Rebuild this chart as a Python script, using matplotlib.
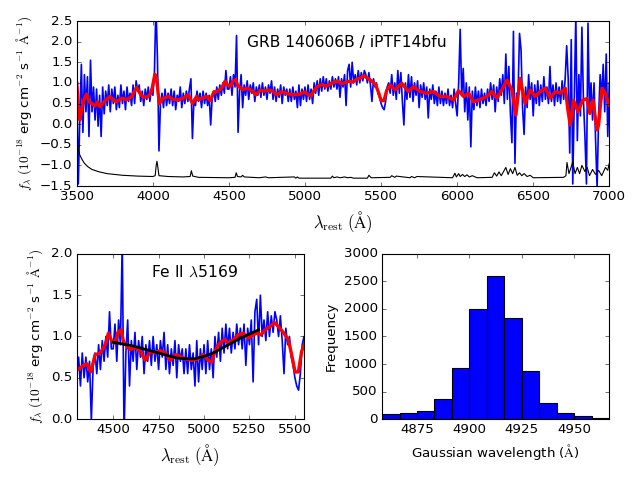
import numpy as np
import matplotlib as mpl
mpl.use('Agg')
import matplotlib.pyplot as plt

plt.style.use('classic')

# observed spectrum, 10 A grid from 3500 to 7000
wave = np.arange(3500, 7001, 10)
flux = [
    0.9, -1.45, 0.2, 1.45, -0.2, 1.2, 0.3, 1.15, -0.3, 1.55,     # 3500
    0.3, 0.9, 0.1, 0.85, -0.05, 0.7, -0.3, 0.9, 0.25, 0.8,       # 3600
    0.45, 0.95, 0.3, 0.85, 0.5, 0.9, 0.35, 0.7, 0.4, 0.95,       # 3700
    0.5, 0.8, 0.35, 0.9, 0.55, 0.75, 0.45, 0.95, 0.5, 1.05,      # 3800
    0.8, 0.95, 0.55, 0.8, 0.45, 0.85, 0.6, 0.9, 0.55, 0.85,      # 3900
    0.7, 1.2, 2.9, 1.6, -0.65, 0.5, 0.75, 0.4, 0.85, 0.45,       # 4000
    0.75, 0.5, 0.85, 0.45, 0.8, 0.35, 0.7, 0.55, 0.9, 0.4,       # 4100
    0.75, 0.5, 0.8, 0.55, 0.85, 1.1, -0.35, 0.6, 0.45, 0.8,      # 4200
    0.55, 0.75, 0.4, 0.8, 0.5, 0.75, 0.45, 0.7, -0.02, 0.65,     # 4300
    0.8, 0.55, 0.9, 0.6, 0.95, 0.7, 1.0, 0.75, 1.3, 0.85,        # 4400
    0.85, 1.15, 0.7, 1.2, 0.9, 2.15, -0.2, 0.8, 1.2, 0.4,        # 4500
    0.95, 0.7, 1.05, 0.6, 0.95, 0.75, 1.0, 0.55, 0.9, 0.7,       # 4600
    0.95, 0.65, 1.0, 0.7, 0.9, 0.6, 0.95, 0.75, 1.05, 0.6,       # 4700
    0.9, 0.55, 0.85, 0.65, 0.95, 0.5, 0.9, 0.7, 0.85, 0.55,      # 4800
    0.85, 0.55, 0.9, 0.6, 0.8, 0.4, 0.95, 0.45, 0.85, 0.6,       # 4900
    0.9, 0.55, 0.95, 0.6, 0.85, 0.5, 1.0, 0.75, 1.05, 0.7,       # 5000
    1.1, 0.8, 1.15, 0.85, 1.1, 0.8, 1.05, 0.85, 1.15, 0.9,       # 5100
    1.1, 0.85, 1.15, 0.65, 1.1, 0.9, 1.2, 0.45, 1.3, 1.45,       # 5200
    0.9, 1.5, 1.0, 1.2, 0.95, 1.3, 1.0, 1.25, 1.05, 1.3,         # 5300
    1.2, 1.0, 1.25, 0.95, 0.55, 1.1, 0.9, 1.0, 0.75, 0.65,       # 5400
    0.5, 0.4, 0.35, 0.55, 0.9, 1.0, 0.75, 1.2, 0.7, 1.0,         # 5500
    0.6, 1.3, 0.75, 1.25, 0.55, -0.02, 1.0, 0.6, 1.2, 0.65,      # 5600
    1.15, 0.55, 1.0, 0.7, 1.05, 0.4, 0.95, 0.65, 1.0, 0.6,       # 5700
    0.9, 0.15, 0.85, 0.6, 0.95, 0.5, 0.8, 0.45, 0.9, 0.5,        # 5800
    0.8, 0.45, 0.75, 0.5, 0.85, 0.45, 0.7, 0.4, 0.85, 0.5,       # 5900
    0.2, 1.0, 2.3, 0.7, 1.35, 0.3, 1.0, 0.1, 0.9, -0.55,         # 6000
    0.8, 0.35, 0.9, 0.45, 0.8, 0.4, 0.85, 0.5, 0.75, 0.45,       # 6100
    0.85, 0.55, 1.0, 0.6, 0.95, 0.3, 0.9, 0.55, 1.1, 0.7,        # 6200
    1.2, 0.5, 1.7, 0.6, 1.4, 0.25, -0.45, 2.25, -0.95, 0.75,     # 6300
    0.7, 2.2, 1.8, 0.4, -0.25, 0.9, 0.4, 1.2, 0.6, 1.0,          # 6400
    0.2, 0.95, 0.5, 1.05, 0.45, 0.95, 0.55, 1.15, 0.6, 0.9,      # 6500
    0.5, 1.4, 0.55, 0.95, 0.45, 1.0, 0.55, 0.9, 0.5, 1.05,       # 6600
    0.6, 1.1, 1.9, 1.1, -0.7, 2.05, -1.45, 0.6, 2.65, -0.4,      # 6700
    1.2, 0.2, 2.35, 0.6, -0.3, -1.45, 2.45, 0.35, 1.0, 0.1,      # 6800
    1.0, -0.4, -1.55, 0.2, 1.2, 0.6, 1.45, 0.3, 1.7, -0.3,       # 6900
    1.0,
]

# smoothed spectrum
smooth_wave = [3500, 3511, 3520, 3531, 3546, 3564, 3581, 3599, 3618, 3636,
               3651, 3669, 3691, 3717, 3739, 3761, 3794, 3827, 3860, 3893,
               3914, 3936, 3969, 3991, 4013, 4024, 4042, 4068, 4101, 4134,
               4167, 4200, 4232, 4261, 4287, 4300, 4337, 4355, 4377, 4401,
               4429, 4456, 4474, 4493, 4511, 4526, 4544, 4557, 4575, 4594,
               4622, 4649, 4677, 4704, 4732, 4759, 4787, 4814, 4842, 4869,
               4895, 4932, 4968, 4996, 5023, 5042, 5060, 5078, 5097, 5115,
               5133, 5161, 5188, 5216, 5243, 5271, 5289, 5313, 5335, 5363,
               5387, 5409, 5436, 5464, 5482, 5501, 5519, 5537, 5559, 5592,
               5636, 5680, 5713, 5757, 5800, 5844, 5888, 5932, 5976, 6009,
               6042, 6075, 6107, 6151, 6195, 6228, 6261, 6294, 6327, 6360,
               6386, 6414, 6447, 6480, 6513, 6546, 6579, 6612, 6645, 6678,
               6711, 6728, 6743, 6765, 6794, 6825, 6853, 6872, 6893, 6919,
               6930, 6952, 6974, 7000]
smooth_flux = [0.99, 0.34, 0.10, 0.34, 0.59, 0.73, 0.54, 0.50, 0.44, 0.54,
               0.42, 0.50, 0.59, 0.67, 0.59, 0.54, 0.63, 0.59, 0.67, 0.89,
               0.75, 0.65, 0.67, 0.79, 1.21, 1.11, 0.50, 0.63, 0.67, 0.60,
               0.59, 0.63, 0.71, 0.50, 0.67, 0.59, 0.65, 0.67, 0.57, 0.78,
               0.80, 0.90, 1.04, 0.94, 0.92, 1.05, 1.08, 0.94, 0.88, 0.84,
               0.87, 0.82, 0.71, 0.82, 0.80, 0.83, 0.80, 0.71, 0.78, 0.76,
               0.73, 0.71, 0.73, 0.78, 0.71, 0.69, 0.82, 0.90, 0.94, 0.96,
               0.92, 0.96, 1.02, 1.04, 0.98, 1.02, 1.04, 1.02, 1.08, 1.12,
               1.17, 1.12, 1.05, 0.96, 0.78, 0.57, 0.57, 0.82, 0.95, 0.83,
               0.99, 0.79, 0.91, 0.79, 0.75, 0.79, 0.67, 0.67, 0.58, 0.81,
               0.67, 0.75, 0.54, 0.60, 0.67, 0.79, 0.63, 0.83, 1.07, 0.83,
               0.22, 1.11, 0.50, 0.83, 0.67, 0.79, 0.87, 0.63, 0.79, 0.75,
               0.87, 0.34, -0.02, 0.58, 0.30, 0.58, 0.62, 0.26, 0.58, -0.14,
               -0.02, 0.87, 0.75, 0.46]

# error / sky spectrum (offset)
err_wave = [3500, 3510, 3520, 3535, 3550, 3575, 3600, 3650, 3700, 3800,
            3900, 4000, 4015, 4022, 4027, 4033, 4040, 4100, 4200, 4245,
            4253, 4262, 4300, 4500, 4540, 4548, 4556, 4580, 4590, 4600,
            4700, 4740, 4760, 4930, 4940, 4950, 4960, 5170, 5180, 5190,
            5210, 5230, 5260, 5280, 5300, 5320, 5410, 5420, 5435, 5560,
            5570, 5590, 5600, 5690, 5700, 5720, 5735, 5970, 5985, 5995,
            6010, 6020, 6035, 6050, 6065, 6080, 6100, 6130, 6230, 6245,
            6260, 6275, 6290, 6305, 6320, 6335, 6350, 6365, 6380, 6395,
            6410, 6425, 6440, 6460, 6480, 6500, 6700, 6715, 6722, 6735,
            6760, 6775, 6790, 6805, 6820, 6840, 6855, 6870, 6890, 6910,
            6930, 6950, 6975, 6990, 7000]
err_flux = [-0.45, -0.62, -0.75, -0.86, -0.95, -1.04, -1.10, -1.16, -1.20, -1.24,
            -1.26, -1.27, -1.25, -1.00, -0.90, -1.05, -1.25, -1.27, -1.28, -1.27,
            -1.13, -1.26, -1.29, -1.30, -1.29, -1.18, -1.27, -1.28, -1.24, -1.28,
            -1.30, -1.28, -1.30, -1.28, -1.31, -1.28, -1.31, -1.31, -1.26, -1.30,
            -1.28, -1.30, -1.28, -1.30, -1.29, -1.31, -1.31, -1.24, -1.30, -1.29,
            -1.25, -1.29, -1.26, -1.30, -1.27, -1.30, -1.27, -1.30, -1.19, -1.28,
            -1.20, -1.27, -1.22, -1.27, -1.23, -1.28, -1.25, -1.30, -1.29, -1.18,
            -1.26, -1.16, -1.25, -1.15, -1.05, -1.22, -1.08, -1.20, -1.05, -1.24,
            -1.18, -1.25, -1.20, -1.27, -1.24, -1.30, -1.29, -1.25, -0.93, -1.20,
            -0.92, -1.20, -1.05, -1.20, -1.00, -1.15, -1.05, -1.25, -1.10, -1.22,
            -1.12, -1.25, -1.05, -1.12, -0.95]

# Gaussian fit to Fe II 5169
fit_wave = [4500, 4550, 4600, 4650, 4700, 4750, 4800, 4850, 4900,
            4950, 5000, 5050, 5100, 5150, 5200, 5250, 5300]
fit_flux = [0.93, 0.91, 0.89, 0.86, 0.83, 0.80, 0.77, 0.74, 0.73,
            0.73, 0.76, 0.80, 0.86, 0.92, 0.98, 1.03, 1.08]

# MC histogram of the fitted Gaussian centre
hist_edges = [4858.3, 4866.7, 4875.0, 4883.3, 4891.7, 4900.0, 4908.3,
              4916.7, 4925.0, 4933.3, 4941.7, 4950.0, 4958.3, 4966.7]
hist_counts = [85, 103, 150, 372, 934, 2000, 2600, 1835, 873, 297, 110, 55, 18]

ylab = r'$f_\lambda\ (10^{-18}$ erg cm$^{-2}$ s$^{-1}$ $\mathrm{\AA}^{-1})$'
xlab = r'$\lambda_{\rm rest}\ (\mathrm{\AA})$'

fig = plt.figure(figsize=(8, 6), dpi=80, facecolor='white')

ax1 = fig.add_axes([0.120, 0.6125, 0.832, 0.3437])
ax1.plot(wave, flux, 'b-', lw=1.5)
ax1.plot(smooth_wave, smooth_flux, 'r-', lw=3)
ax1.plot(err_wave, err_flux, 'k-', lw=1)
ax1.set_xlim(3500, 7000)
ax1.set_ylim(-1.5, 2.5)
ax1.set_xlabel(xlab, fontsize=15)
ax1.set_ylabel(ylab)
ax1.text(0.508, 0.87, 'GRB 140606B / iPTF14bfu', transform=ax1.transAxes,
         ha='center', va='center', fontsize=14)

ax2 = fig.add_axes([0.120, 0.127, 0.355, 0.344])
ax2.plot(wave, flux, 'b-', lw=1.5)
ax2.plot(smooth_wave, smooth_flux, 'r-', lw=3)
ax2.plot(fit_wave, fit_flux, 'k-', lw=2.5)
ax2.set_xlim(4300, 5550)
ax2.set_ylim(0, 2)
ax2.set_xticks([4500, 4750, 5000, 5250, 5500])
ax2.set_xlabel(xlab, fontsize=15)
ax2.set_ylabel(ylab)
ax2.text(0.52, 0.89, r'Fe II $\lambda$5169', transform=ax2.transAxes,
         ha='center', va='center', fontsize=14)

ax3 = fig.add_axes([0.597, 0.127, 0.355, 0.344])
ax3.bar(hist_edges[:-1], hist_counts, width=np.diff(hist_edges), align='edge',
        color='b', edgecolor='k')
ax3.set_xlim(hist_edges[0], hist_edges[-1])
ax3.set_xticks([4875, 4900, 4925, 4950])
ax3.set_xlabel(r'Gaussian wavelength ($\mathrm{\AA}$)')
ax3.set_ylabel('Frequency')

fig.savefig('out.png', dpi=80, facecolor='white')
